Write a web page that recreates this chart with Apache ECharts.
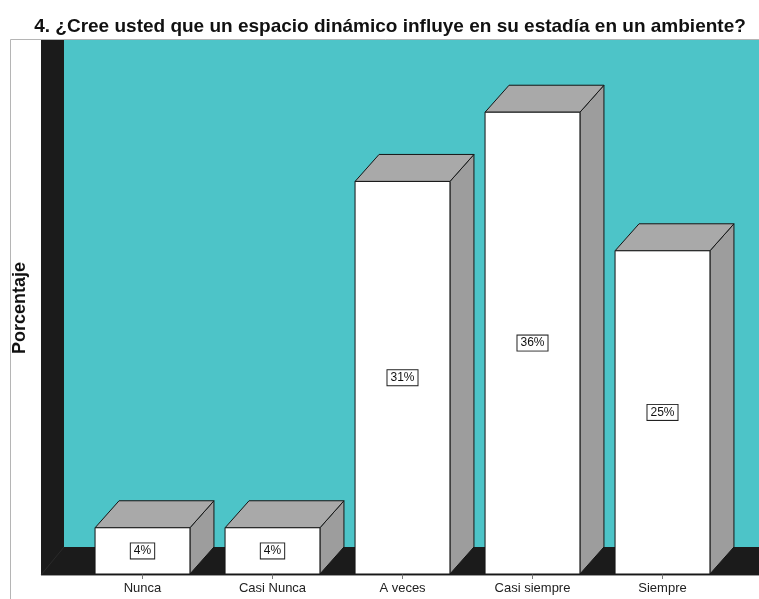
<!DOCTYPE html>
<html>
<head>
<meta charset="utf-8">
<script src="https://cdn.jsdelivr.net/npm/echarts@6/dist/echarts.min.js"></script>
<style>
  html, body { margin: 0; padding: 0; background: #fff; }
  #chart { width: 759px; height: 599px; }
</style>
</head>
<body>
<div id="chart"></div>
<script>
// Answers to question 4, share of respondents per option
const categories = ['Nunca', 'Casi Nunca', 'A veces', 'Casi siempre', 'Siempre'];
const percentages = [3.64, 3.64, 30.91, 36.36, 25.45];
const titleText = '4. ¿Cree usted que un espacio dinámico influye en su estadía en un ambiente?';
const yAxisTitle = 'Porcentaje';

// 3D look: depth offset of the box back faces, in pixels
const DEPTH_X = 24;
const DEPTH_Y = 27;
const BAR_RATIO = 0.73;

const WALL = '#4dc4c8';
const DARK = '#1b1b1b';
const TOP_FACE = '#a9a9a9';
const SIDE_FACE = '#9d9d9d';
const EDGE = '#151515';

function renderBox(params, api) {
  const idx = api.value(0);
  const val = api.value(1);
  const base = api.coord([idx, 0]);
  const top = api.coord([idx, val]);
  const w = api.size([1, 0])[0] * BAR_RATIO;
  const x0 = base[0] - w / 2;
  const x1 = base[0] + w / 2;
  const yb = base[1];
  const yt = top[1];
  const edge = { stroke: EDGE, lineWidth: 1 };
  return {
    type: 'group',
    children: [
      {
        type: 'polygon',
        shape: { points: [[x1, yt], [x1 + DEPTH_X, yt - DEPTH_Y], [x1 + DEPTH_X, yb - DEPTH_Y], [x1, yb]] },
        style: Object.assign({ fill: SIDE_FACE }, edge)
      },
      {
        type: 'polygon',
        shape: { points: [[x0, yt], [x1, yt], [x1 + DEPTH_X, yt - DEPTH_Y], [x0 + DEPTH_X, yt - DEPTH_Y]] },
        style: Object.assign({ fill: TOP_FACE }, edge)
      },
      {
        type: 'rect',
        shape: { x: x0, y: yt, width: w, height: yb - yt },
        style: Object.assign({ fill: '#ffffff' }, edge)
      },
      {
        type: 'text',
        style: {
          x: base[0],
          y: (yt + yb) / 2,
          text: Math.round(val) + '%',
          align: 'center',
          verticalAlign: 'middle',
          fill: '#111',
          font: '12px Arial, "Liberation Sans", sans-serif',
          backgroundColor: '#ffffff',
          borderColor: '#222',
          borderWidth: 1,
          padding: [2, 3, 1, 3]
        }
      }
    ]
  };
}

const chart = echarts.init(document.getElementById('chart'), null, { renderer: 'canvas' });

chart.setOption({
  backgroundColor: '#ffffff',
  animation: false,
  title: {
    text: titleText,
    left: 385,
    textAlign: 'center',
    top: 12,
    textStyle: {
      fontFamily: 'Arial, "Liberation Sans", sans-serif',
      fontSize: 19,
      fontWeight: 'bold',
      color: '#111'
    }
  },
  grid: { left: 77.5, right: 31.5, top: 66, bottom: 25 },
  xAxis: {
    type: 'category',
    data: categories,
    axisLine: { show: false },
    axisTick: { show: true, alignWithLabel: true, length: 5, lineStyle: { color: '#777' } },
    axisLabel: {
      color: '#222',
      fontSize: 13,
      margin: 8,
      fontFamily: 'Arial, "Liberation Sans", sans-serif'
    },
    splitLine: { show: false }
  },
  yAxis: {
    type: 'value',
    min: 0,
    max: 40,
    show: false
  },
  graphic: [
    { type: 'rect', z: -10, shape: { x: 10.5, y: 39.5, width: 800, height: 600 },
      style: { fill: '#ffffff', stroke: '#b5b5b5', lineWidth: 1 } },
    { type: 'rect', z: -9, shape: { x: 64, y: 40, width: 700, height: 508 }, style: { fill: WALL } },
    { type: 'rect', z: -9, shape: { x: 41, y: 40, width: 23, height: 535 }, style: { fill: DARK } },
    { type: 'rect', z: -9, shape: { x: 41, y: 547, width: 720, height: 28 }, style: { fill: DARK } },
    { type: 'line', z: -8, shape: { x1: 41, y1: 575, x2: 64, y2: 547 }, style: { stroke: '#2a2a2a', lineWidth: 1 } },
    { type: 'line', z: -8, shape: { x1: 41, y1: 575.5, x2: 759, y2: 575.5 }, style: { stroke: '#9a9a9a', lineWidth: 1 } },
    {
      type: 'text',
      z: 5,
      x: 20,
      y: 308,
      rotation: Math.PI / 2,
      style: {
        text: yAxisTitle,
        align: 'center',
        verticalAlign: 'middle',
        fill: '#111',
        font: 'bold 18px Arial, "Liberation Sans", sans-serif'
      }
    }
  ],
  series: [
    {
      type: 'custom',
      renderItem: renderBox,
      clip: false,
      z: 2,
      data: percentages.map((v, i) => [i, v])
    }
  ]
});
</script>
</body>
</html>
